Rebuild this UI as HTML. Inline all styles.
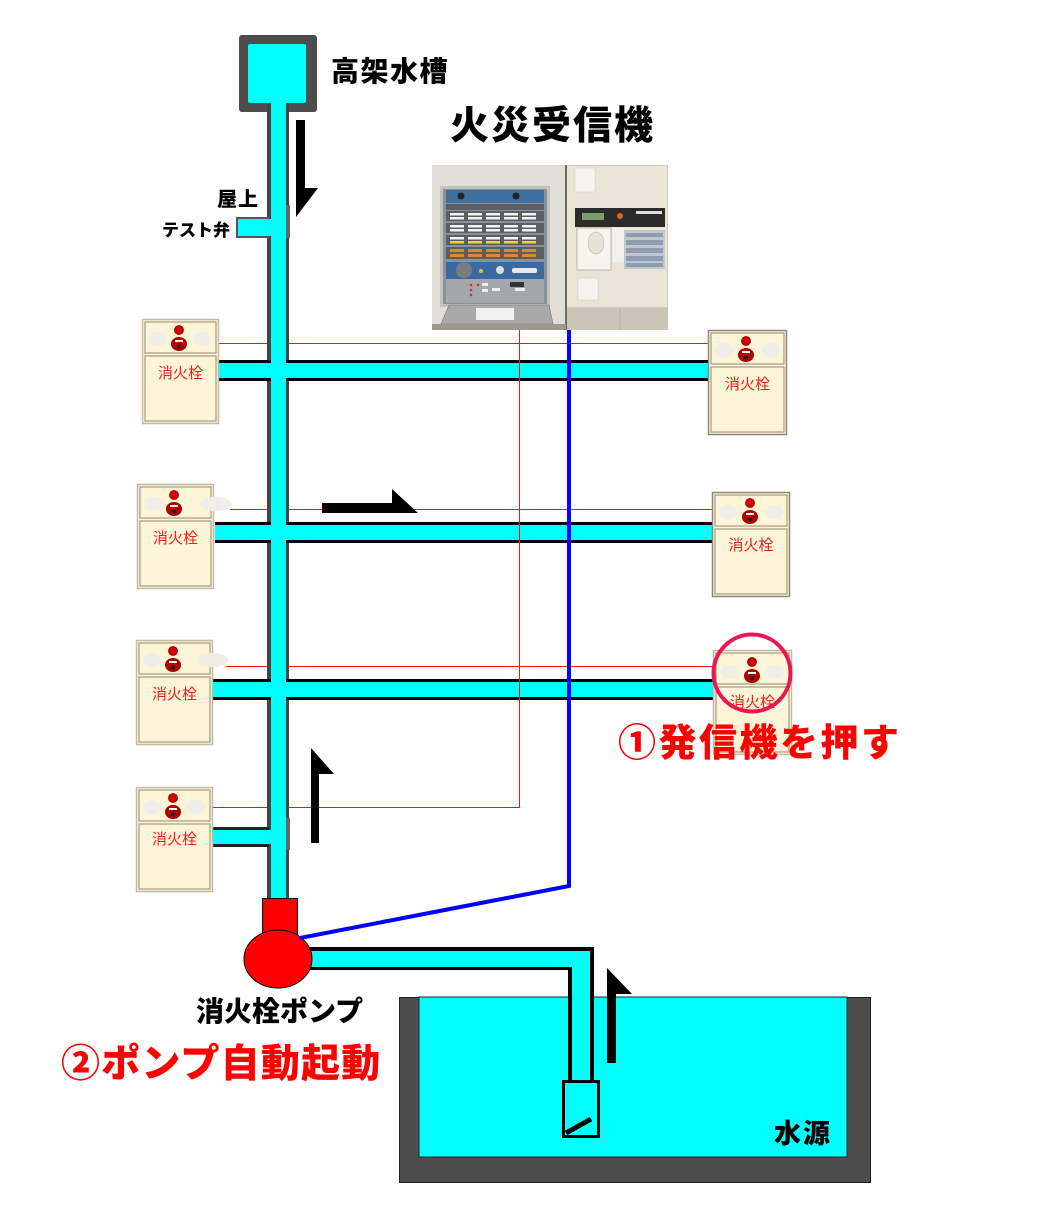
<!DOCTYPE html>
<html lang="ja">
<head>
<meta charset="utf-8">
<style>
  html,body{margin:0;padding:0;background:#fff;}
  body{width:1051px;height:1225px;overflow:hidden;position:relative;}
  svg{position:absolute;left:0;top:0;}
  .t{font-family:"Liberation Sans","Noto Sans CJK JP",sans-serif;}
</style>
</head>
<body>
<svg width="1051" height="1225" viewBox="0 0 1051 1225" xmlns="http://www.w3.org/2000/svg">
  <defs>
    <clipPath id="photoClip"><rect x="432" y="165" width="236" height="165"/></clipPath>
  </defs>

  <!-- ===== Fire alarm receiver photo (approximation) ===== -->
  <g clip-path="url(#photoClip)">
    <rect x="432" y="165" width="236" height="165" fill="#d8d4cb"/>
    <rect x="432" y="165" width="134" height="165" fill="#e0ded7"/>
    <!-- right panel -->
    <rect x="566" y="165" width="102" height="143" fill="#e9e4d5" stroke="#b8b2a4" stroke-width="1"/>
    <rect x="575" y="168" width="20" height="24" fill="#f5f3ee" stroke="#d0ccc0" stroke-width="0.5"/>
    <rect x="575" y="208" width="90" height="19" fill="#2b2b2b"/>
    <rect x="582" y="213" width="22" height="7" fill="#7d9c6c"/>
    <circle cx="620" cy="216" r="3" fill="#d06a30"/>
    <rect x="636" y="211" width="26" height="3" fill="#ddd"/>
    <rect x="577" y="228" width="34" height="42" fill="#f6f4ee" stroke="#b0aa9c" stroke-width="0.8"/>
    <ellipse cx="596" cy="243" rx="8" ry="11" fill="#e6e2d8" stroke="#b8b2a4" stroke-width="0.6"/>
    <rect x="612" y="228" width="12" height="34" fill="#f2f0ea"/>
    <rect x="624" y="230" width="41" height="39" fill="#c3c7cd"/>
    <g fill="#8e9cb2">
      <rect x="626" y="233" width="37" height="4"/>
      <rect x="626" y="240" width="37" height="5"/>
      <rect x="626" y="248" width="37" height="5"/>
      <rect x="626" y="256" width="37" height="5"/>
      <rect x="626" y="263" width="37" height="4"/>
    </g>
    <rect x="578" y="278" width="20" height="22" fill="#f4f3ef" stroke="#c8c4ba" stroke-width="0.5"/>
    <rect x="566" y="308" width="102" height="22" fill="#cbc5b8"/>
    <line x1="620" y1="308" x2="620" y2="330" stroke="#b3ad9f" stroke-width="1"/>
    <rect x="565" y="165" width="2" height="165" fill="#6e6a64"/>
    <!-- left panel -->
    <rect x="440" y="186" width="110" height="121" fill="#c2c2be"/>
    <rect x="443" y="189" width="104" height="115" fill="#8a9199"/>
    <rect x="446" y="190" width="98" height="13" fill="#3f6f9e"/>
    <circle cx="461" cy="196" r="3.5" fill="#222"/>
    <circle cx="516" cy="196" r="3.5" fill="#222"/>
    <rect x="446" y="204" width="98" height="6" fill="#5b6068"/>
    <g fill="#5a5f66">
      <rect x="446" y="211" width="98" height="10"/>
      <rect x="446" y="223" width="98" height="10"/>
      <rect x="446" y="235" width="98" height="10"/>
      <rect x="446" y="247" width="98" height="12"/>
    </g>
    <g fill="#f2f2f2">
      <rect x="450" y="213" width="14" height="2.5"/><rect x="468" y="213" width="14" height="2.5"/><rect x="486" y="213" width="14" height="2.5"/><rect x="504" y="213" width="14" height="2.5"/><rect x="522" y="213" width="14" height="2.5"/>
      <rect x="450" y="217" width="14" height="2.5"/><rect x="468" y="217" width="14" height="2.5"/><rect x="486" y="217" width="14" height="2.5"/><rect x="504" y="217" width="14" height="2.5"/><rect x="522" y="217" width="14" height="2.5"/>
      <rect x="450" y="225" width="14" height="2.5"/><rect x="468" y="225" width="14" height="2.5"/><rect x="486" y="225" width="14" height="2.5"/><rect x="504" y="225" width="14" height="2.5"/><rect x="522" y="225" width="14" height="2.5"/>
      <rect x="450" y="229" width="14" height="2.5"/><rect x="468" y="229" width="14" height="2.5"/><rect x="486" y="229" width="14" height="2.5"/><rect x="504" y="229" width="14" height="2.5"/><rect x="522" y="229" width="14" height="2.5"/>
      <rect x="450" y="237" width="14" height="2.5"/><rect x="468" y="237" width="14" height="2.5"/><rect x="486" y="237" width="14" height="2.5"/><rect x="504" y="237" width="14" height="2.5"/><rect x="522" y="237" width="14" height="2.5"/>
    </g>
    <g fill="#f0d040">
      <rect x="450" y="241" width="14" height="2.5"/><rect x="468" y="241" width="14" height="2.5"/><rect x="486" y="241" width="14" height="2.5"/><rect x="504" y="241" width="14" height="2.5"/><rect x="522" y="241" width="14" height="2.5"/>
    </g>
    <g fill="#d98a30">
      <rect x="450" y="249" width="14" height="3"/><rect x="468" y="249" width="14" height="3"/><rect x="486" y="249" width="14" height="3"/><rect x="504" y="249" width="14" height="3"/><rect x="522" y="249" width="14" height="3"/>
      <rect x="450" y="254" width="14" height="3"/><rect x="468" y="254" width="14" height="3"/><rect x="486" y="254" width="14" height="3"/><rect x="504" y="254" width="14" height="3"/><rect x="522" y="254" width="14" height="3"/>
    </g>
    <rect x="446" y="262" width="98" height="17" fill="#3c6aa0"/>
    <circle cx="464" cy="270" r="8" fill="#7a7d82"/>
    <circle cx="481" cy="271" r="2" fill="#e0c030"/>
    <circle cx="500" cy="270" r="4" fill="#ddd"/>
    <rect x="512" y="268" width="25" height="5" rx="2" fill="#e8e8ea"/>
    <rect x="446" y="279" width="98" height="24" fill="#a4a7ab"/>
    <g fill="#d03030"><circle cx="471" cy="285" r="1.3"/><circle cx="471" cy="290" r="1.3"/><circle cx="471" cy="295" r="1.3"/><circle cx="478" cy="285" r="1.3"/></g>
    <g fill="#eee"><rect x="482" y="283" width="6" height="3"/><rect x="482" y="289" width="6" height="3"/><rect x="492" y="288" width="8" height="3"/><rect x="515" y="288" width="10" height="3"/></g>
    <rect x="510" y="282" width="14" height="5" fill="#333"/>
    <polygon points="441,324 449,305 549,305 553,324" fill="#a9a9a9" stroke="#777" stroke-width="0.6"/>
    <rect x="476" y="308" width="38" height="12" fill="#f1f1f1"/>
    <rect x="432" y="324" width="134" height="6" fill="#9d9990"/>
  </g>

  <!-- ===== Thin red signal lines ===== -->
  <g stroke="#ff1010" stroke-width="1" fill="none">
    <line x1="219" y1="343.5" x2="708" y2="343.5"/>
    <line x1="230" y1="509.5" x2="712" y2="509.5"/>
    <line x1="226" y1="666.5" x2="713" y2="666.5"/>
    <line x1="213" y1="807.5" x2="519.5" y2="807.5"/>
  </g>

  <!-- ===== Elevated tank ===== -->
  <rect x="239" y="35" width="78" height="77" rx="3" fill="#4d4d4d"/>
  <rect x="248" y="44" width="58" height="59" rx="2" fill="#00ffff"/>

  <!-- ===== Pipes: outlines ===== -->
  <rect x="267" y="103" width="22" height="797" fill="#444"/>
  <rect x="236" y="217" width="34" height="21" fill="#555"/>
  <rect x="285" y="205" width="5" height="33" fill="#666"/>
  <rect x="285" y="818" width="5" height="32" fill="#666"/>
  <rect x="219" y="360" width="489" height="21" fill="#000"/>
  <rect x="215" y="522" width="497" height="21" fill="#000"/>
  <rect x="213" y="679" width="500" height="21" fill="#000"/>
  <rect x="213" y="827" width="56" height="20" fill="#222"/>
  <!-- Pipes: cyan fill -->
  <rect x="271" y="103" width="15" height="797" fill="#00ffff"/>
  <rect x="238" y="219" width="34" height="17" fill="#00ffff"/>
  <rect x="219" y="363" width="489" height="15" fill="#00ffff"/>
  <rect x="215" y="525" width="497" height="15" fill="#00ffff"/>
  <rect x="213" y="682" width="500" height="15" fill="#00ffff"/>
  <rect x="213" y="830" width="60" height="14" fill="#00ffff"/>

  <!-- vertical red line (over pipes) -->
  <line x1="519.5" y1="330" x2="519.5" y2="808" stroke="#ff1010" stroke-width="1"/>

  <!-- ===== Water source tank ===== -->
  <rect x="399.5" y="997.5" width="471" height="185" fill="#4d4d4d" stroke="#222" stroke-width="1"/>
  <rect x="419" y="997" width="428" height="160" fill="#00ffff" stroke="#222" stroke-width="1"/>

  <!-- ===== Pump suction pipe ===== -->
  <rect x="300" y="947" width="294" height="23" fill="#000"/>
  <rect x="568" y="947" width="26" height="135" fill="#000"/>
  <rect x="300" y="951" width="290" height="16" fill="#00ffff"/>
  <rect x="572" y="951" width="18" height="131" fill="#00ffff"/>
  <!-- foot valve -->
  <rect x="563.5" y="1081.5" width="35" height="55" fill="#00ffff" stroke="#000" stroke-width="3"/>
  <line x1="566" y1="1133" x2="591" y2="1119" stroke="#000" stroke-width="5"/>

  <!-- ===== Pump ===== -->
  <rect x="262.5" y="898.5" width="35" height="37" fill="#ff0000" stroke="#000" stroke-width="1"/>
  <ellipse cx="278" cy="959" rx="34" ry="29" fill="#ff0000" stroke="#000" stroke-width="1"/>

  <!-- ===== Blue line ===== -->
  <polyline points="569,330 569,886 300,938" fill="none" stroke="#0000ff" stroke-width="4" stroke-linejoin="miter"/>

  <!-- ===== Flow arrows ===== -->
  <g fill="#000">
    <polygon points="296,120 305,120 305,188 318,188 296,217"/>
    <polygon points="322,503 392,503 392,489 418,513 322,513"/>
    <polygon points="311,843 311,748 334,774 319,774 319,843"/>
    <polygon points="607,1063 607,968 632,994 616,994 616,1063"/>
  </g>

  <!-- ===== Hydrant boxes ===== -->
  <g class="t">
    <!-- L1 -->
    <g transform="translate(142,319)">
      <rect x="0.5" y="0.5" width="76" height="104" fill="#fdf5d7" stroke="#c2bba5" stroke-width="1.5"/>
      <rect x="3" y="3" width="71" height="31" fill="none" stroke="#a39b84" stroke-width="1.2"/>
      <rect x="3" y="37" width="71" height="65" fill="none" stroke="#a39b84" stroke-width="1.2"/>
      <ellipse cx="16" cy="20" rx="9" ry="7" fill="#efeee9"/>
      <ellipse cx="60" cy="20" rx="9" ry="7" fill="#efeee9"/>
      <circle cx="37" cy="11" r="4.5" fill="#d40000" stroke="#8a0000" stroke-width="0.8"/>
      <ellipse cx="37" cy="25" rx="8" ry="7" fill="#b00000"/>
      <rect x="33" y="21" width="8" height="2" fill="#fff"/>
      <circle cx="37" cy="27.5" r="2" fill="#222"/>
      <text x="38.5" y="59" text-anchor="middle" font-size="15" fill="#f02020">消火栓</text>
    </g>
    <!-- L2 -->
    <g transform="translate(137,484)">
      <rect x="0.5" y="0.5" width="76" height="104" fill="#fdf5d7" stroke="#c2bba5" stroke-width="1.5"/>
      <rect x="3" y="3" width="71" height="31" fill="none" stroke="#a39b84" stroke-width="1.2"/>
      <rect x="3" y="37" width="71" height="65" fill="none" stroke="#a39b84" stroke-width="1.2"/>
      <ellipse cx="16" cy="20" rx="9" ry="7" fill="#efeee9"/>
      <circle cx="37" cy="11" r="4.5" fill="#d40000" stroke="#8a0000" stroke-width="0.8"/>
      <ellipse cx="37" cy="25" rx="8" ry="7" fill="#b00000"/>
      <rect x="33" y="21" width="8" height="2" fill="#fff"/>
      <circle cx="37" cy="27.5" r="2" fill="#222"/>
      <text x="38.5" y="59" text-anchor="middle" font-size="15" fill="#f02020">消火栓</text>
    </g>
    <ellipse cx="216" cy="504" rx="16" ry="7" fill="#efeee9"/>
    <!-- L3 -->
    <g transform="translate(136,640)">
      <rect x="0.5" y="0.5" width="76" height="104" fill="#fdf5d7" stroke="#c2bba5" stroke-width="1.5"/>
      <rect x="3" y="3" width="71" height="31" fill="none" stroke="#a39b84" stroke-width="1.2"/>
      <rect x="3" y="37" width="71" height="65" fill="none" stroke="#a39b84" stroke-width="1.2"/>
      <ellipse cx="16" cy="20" rx="9" ry="7" fill="#efeee9"/>
      <circle cx="37" cy="11" r="4.5" fill="#d40000" stroke="#8a0000" stroke-width="0.8"/>
      <ellipse cx="37" cy="25" rx="8" ry="7" fill="#b00000"/>
      <rect x="33" y="21" width="8" height="2" fill="#fff"/>
      <circle cx="37" cy="27.5" r="2" fill="#222"/>
      <text x="38.5" y="59" text-anchor="middle" font-size="15" fill="#f02020">消火栓</text>
    </g>
    <ellipse cx="212" cy="660" rx="16" ry="7" fill="#efeee9"/>
    <!-- L4 -->
    <g transform="translate(136,787)">
      <rect x="0.5" y="0.5" width="76" height="104" fill="#fdf5d7" stroke="#c2bba5" stroke-width="1.5"/>
      <rect x="3" y="3" width="71" height="31" fill="none" stroke="#a39b84" stroke-width="1.2"/>
      <rect x="3" y="37" width="71" height="65" fill="none" stroke="#a39b84" stroke-width="1.2"/>
      <ellipse cx="16" cy="20" rx="9" ry="7" fill="#efeee9"/>
      <ellipse cx="60" cy="20" rx="9" ry="7" fill="#efeee9"/>
      <circle cx="37" cy="11" r="4.5" fill="#d40000" stroke="#8a0000" stroke-width="0.8"/>
      <ellipse cx="37" cy="25" rx="8" ry="7" fill="#b00000"/>
      <rect x="33" y="21" width="8" height="2" fill="#fff"/>
      <circle cx="37" cy="27.5" r="2" fill="#222"/>
      <text x="38.5" y="57" text-anchor="middle" font-size="15" fill="#f02020">消火栓</text>
    </g>
    <!-- R1 -->
    <g transform="translate(708,330)">
      <rect x="0.5" y="0.5" width="78" height="104" fill="#fdf5d7" stroke="#8f8878" stroke-width="1.5"/>
      <rect x="3" y="3" width="73" height="31" fill="none" stroke="#a39b84" stroke-width="1.2"/>
      <rect x="3" y="37" width="73" height="65" fill="none" stroke="#a39b84" stroke-width="1.2"/>
      <ellipse cx="16" cy="20" rx="9" ry="7" fill="#efeee9"/>
      <ellipse cx="63" cy="20" rx="9" ry="7" fill="#efeee9"/>
      <circle cx="38" cy="11" r="4.5" fill="#d40000" stroke="#8a0000" stroke-width="0.8"/>
      <ellipse cx="38" cy="25" rx="8" ry="7" fill="#b00000"/>
      <rect x="34" y="21" width="8" height="2" fill="#fff"/>
      <circle cx="38" cy="27.5" r="2" fill="#222"/>
      <text x="39.5" y="59" text-anchor="middle" font-size="15" fill="#f02020">消火栓</text>
    </g>
    <!-- R2 -->
    <g transform="translate(712,492)">
      <rect x="0.5" y="0.5" width="77" height="104" fill="#fdf5d7" stroke="#8f8878" stroke-width="1.5"/>
      <rect x="3" y="3" width="72" height="31" fill="none" stroke="#a39b84" stroke-width="1.2"/>
      <rect x="3" y="37" width="72" height="65" fill="none" stroke="#a39b84" stroke-width="1.2"/>
      <ellipse cx="16" cy="20" rx="9" ry="7" fill="#efeee9"/>
      <ellipse cx="62" cy="20" rx="9" ry="7" fill="#efeee9"/>
      <circle cx="38" cy="11" r="4.5" fill="#d40000" stroke="#8a0000" stroke-width="0.8"/>
      <ellipse cx="38" cy="25" rx="8" ry="7" fill="#b00000"/>
      <rect x="34" y="21" width="8" height="2" fill="#fff"/>
      <circle cx="38" cy="27.5" r="2" fill="#222"/>
      <text x="39" y="58" text-anchor="middle" font-size="15" fill="#f02020">消火栓</text>
    </g>
    <!-- R3 -->
    <g transform="translate(713,650)">
      <rect x="0.5" y="0.5" width="78" height="104" fill="#fdf5d7" stroke="#c2bba5" stroke-width="1.5"/>
      <rect x="3" y="3" width="73" height="31" fill="none" stroke="#a39b84" stroke-width="1.2"/>
      <rect x="3" y="37" width="73" height="65" fill="none" stroke="#a39b84" stroke-width="1.2"/>
      <ellipse cx="17" cy="22" rx="9" ry="7" fill="#efeee9"/>
      <ellipse cx="62" cy="22" rx="9" ry="7" fill="#efeee9"/>
      <circle cx="39" cy="12" r="4.5" fill="#d40000" stroke="#8a0000" stroke-width="0.8"/>
      <ellipse cx="39" cy="26" rx="8" ry="7" fill="#b00000"/>
      <rect x="35" y="22" width="8" height="2" fill="#fff"/>
      <circle cx="39" cy="28.5" r="2" fill="#222"/>
      <text x="39.5" y="57" text-anchor="middle" font-size="15" fill="#f02020">消火栓</text>
    </g>
    <circle cx="752" cy="673" r="38.5" fill="none" stroke="#ec1655" stroke-width="4"/>
  </g>

  <!-- ===== Labels ===== -->
  <g class="t" font-weight="900" fill="#000">
    <text x="331" y="81" font-size="28" letter-spacing="1.5">高架水槽</text>
    <text x="450" y="139" font-size="39" letter-spacing="2">火災受信機</text>
    <text x="217" y="206" font-size="20" letter-spacing="1">屋上</text>
    <text x="162" y="236" font-size="17">テスト弁</text>
    <text x="196" y="1021" font-size="28">消火栓ポンプ</text>
    <text x="774" y="1143" font-size="27" letter-spacing="2">水源</text>
  </g>
  <g class="t" font-weight="900" fill="#ff0000">
    <text x="618" y="756" font-size="38" letter-spacing="2.5">①発信機を押す</text>
    <text x="61" y="1077" font-size="39" letter-spacing="1.2">②ポンプ自動起動</text>
  </g>
</svg>
</body>
</html>
